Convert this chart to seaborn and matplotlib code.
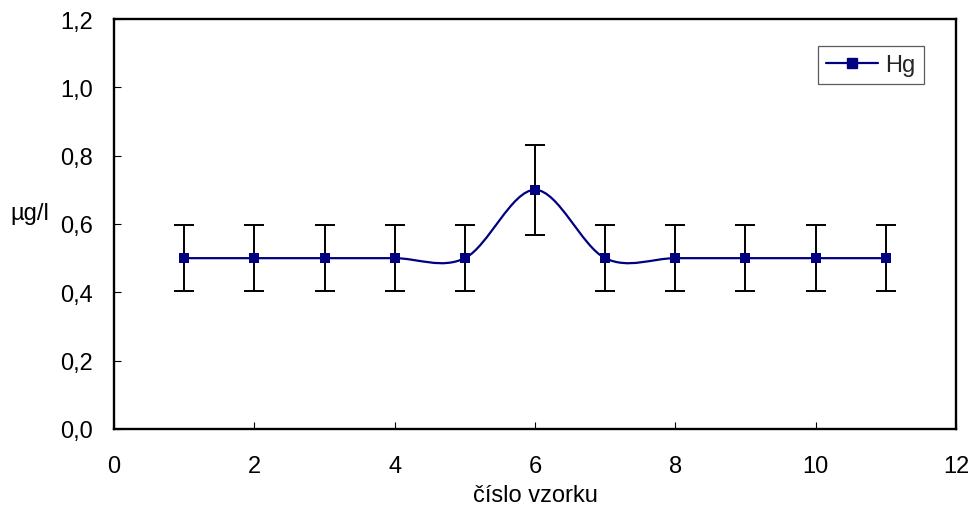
import numpy as np
import pandas as pd
import matplotlib
matplotlib.use("Agg")
import matplotlib.pyplot as plt
import seaborn as sns
from matplotlib.path import Path
from matplotlib.patches import PathPatch
from matplotlib.lines import Line2D
from matplotlib.ticker import FuncFormatter

# Data
sample_no = [1, 2, 3, 4, 5, 6, 7, 8, 9, 10, 11]
hg_values = [0.5, 0.5, 0.5, 0.5, 0.5, 0.7, 0.5, 0.5, 0.5, 0.5, 0.5]
hg_errors = [0.097, 0.097, 0.097, 0.097, 0.097, 0.132, 0.097, 0.097, 0.097, 0.097, 0.097]
series_name = "Hg"
x_label = "číslo vzorku"
y_label = "µg/l"

df = pd.DataFrame({"x": sample_no, "y": hg_values, "err": hg_errors})

sns.set_theme(style="white")
plt.rcParams["font.family"] = ["Liberation Sans", "DejaVu Sans"]

navy = "#000080"
fs = 17
fig = plt.figure(figsize=(9.74, 5.1), dpi=100)
ax = fig.add_axes([114 / 974, 80 / 510, (956 - 114) / 974, (430 - 20) / 510])

# error bars
ax.errorbar(df["x"], df["y"], yerr=df["err"], fmt="none", ecolor="black",
            elinewidth=1.4, capsize=7.5, capthick=1.4, zorder=2)

# smoothed line (Catmull-Rom style Bezier through data points, like Excel smoothing)
xs = np.asarray(df["x"], float)
ys = np.asarray(df["y"], float)
pts = np.column_stack([xs, ys])
n = len(pts)
verts = [pts[0]]
codes = [Path.MOVETO]
for i in range(n - 1):
    p0 = pts[i - 1] if i > 0 else pts[i]
    p1 = pts[i]
    p2 = pts[i + 1]
    p3 = pts[i + 2] if i + 2 < n else pts[i + 1]
    c1 = p1 + (p2 - p0) / 6.0
    c2 = p2 - (p3 - p1) / 6.0
    verts += [c1, c2, p2]
    codes += [Path.CURVE4] * 3
ax.add_patch(PathPatch(Path(verts, codes), facecolor="none", edgecolor=navy,
                       lw=1.6, zorder=3))

# markers
sns.scatterplot(data=df, x="x", y="y", marker="s", s=48, color=navy,
                edgecolor=navy, linewidth=0, ax=ax, zorder=4, legend=False)

ax.set_xlim(0, 12)
ax.set_ylim(0, 1.2)
ax.set_xticks(np.arange(0, 13, 2))
ax.set_yticks(np.arange(0, 1.21, 0.2))
ax.yaxis.set_major_formatter(FuncFormatter(lambda v, p: f"{v:.1f}".replace(".", ",")))
ax.tick_params(axis="both", direction="in", length=5, width=0.8, colors="black",
               labelsize=fs, pad=15)
ax.tick_params(axis="x", pad=19)
ax.tick_params(left=True, bottom=True)
for s in ax.spines.values():
    s.set_visible(True)
    s.set_color("black")
    s.set_linewidth(1.7)

ax.set_xlabel(x_label, fontsize=fs, labelpad=5, color="black")
ax.set_ylabel(y_label, fontsize=fs, rotation=0, color="black")
ax.yaxis.set_label_coords(-0.1, 0.5)

handle = Line2D([], [], color=navy, lw=1.6, marker="s", markersize=6.5)
leg = ax.legend([handle], [series_name], loc="upper right",
                bbox_to_anchor=(0.962, 0.935), fontsize=fs, frameon=True,
                fancybox=False, handlelength=2.2, borderpad=0.35,
                handletextpad=0.3, borderaxespad=0)
leg.get_frame().set_edgecolor("#333333")
leg.get_frame().set_linewidth(0.9)

fig.savefig("out.png", dpi=100, facecolor="white")
